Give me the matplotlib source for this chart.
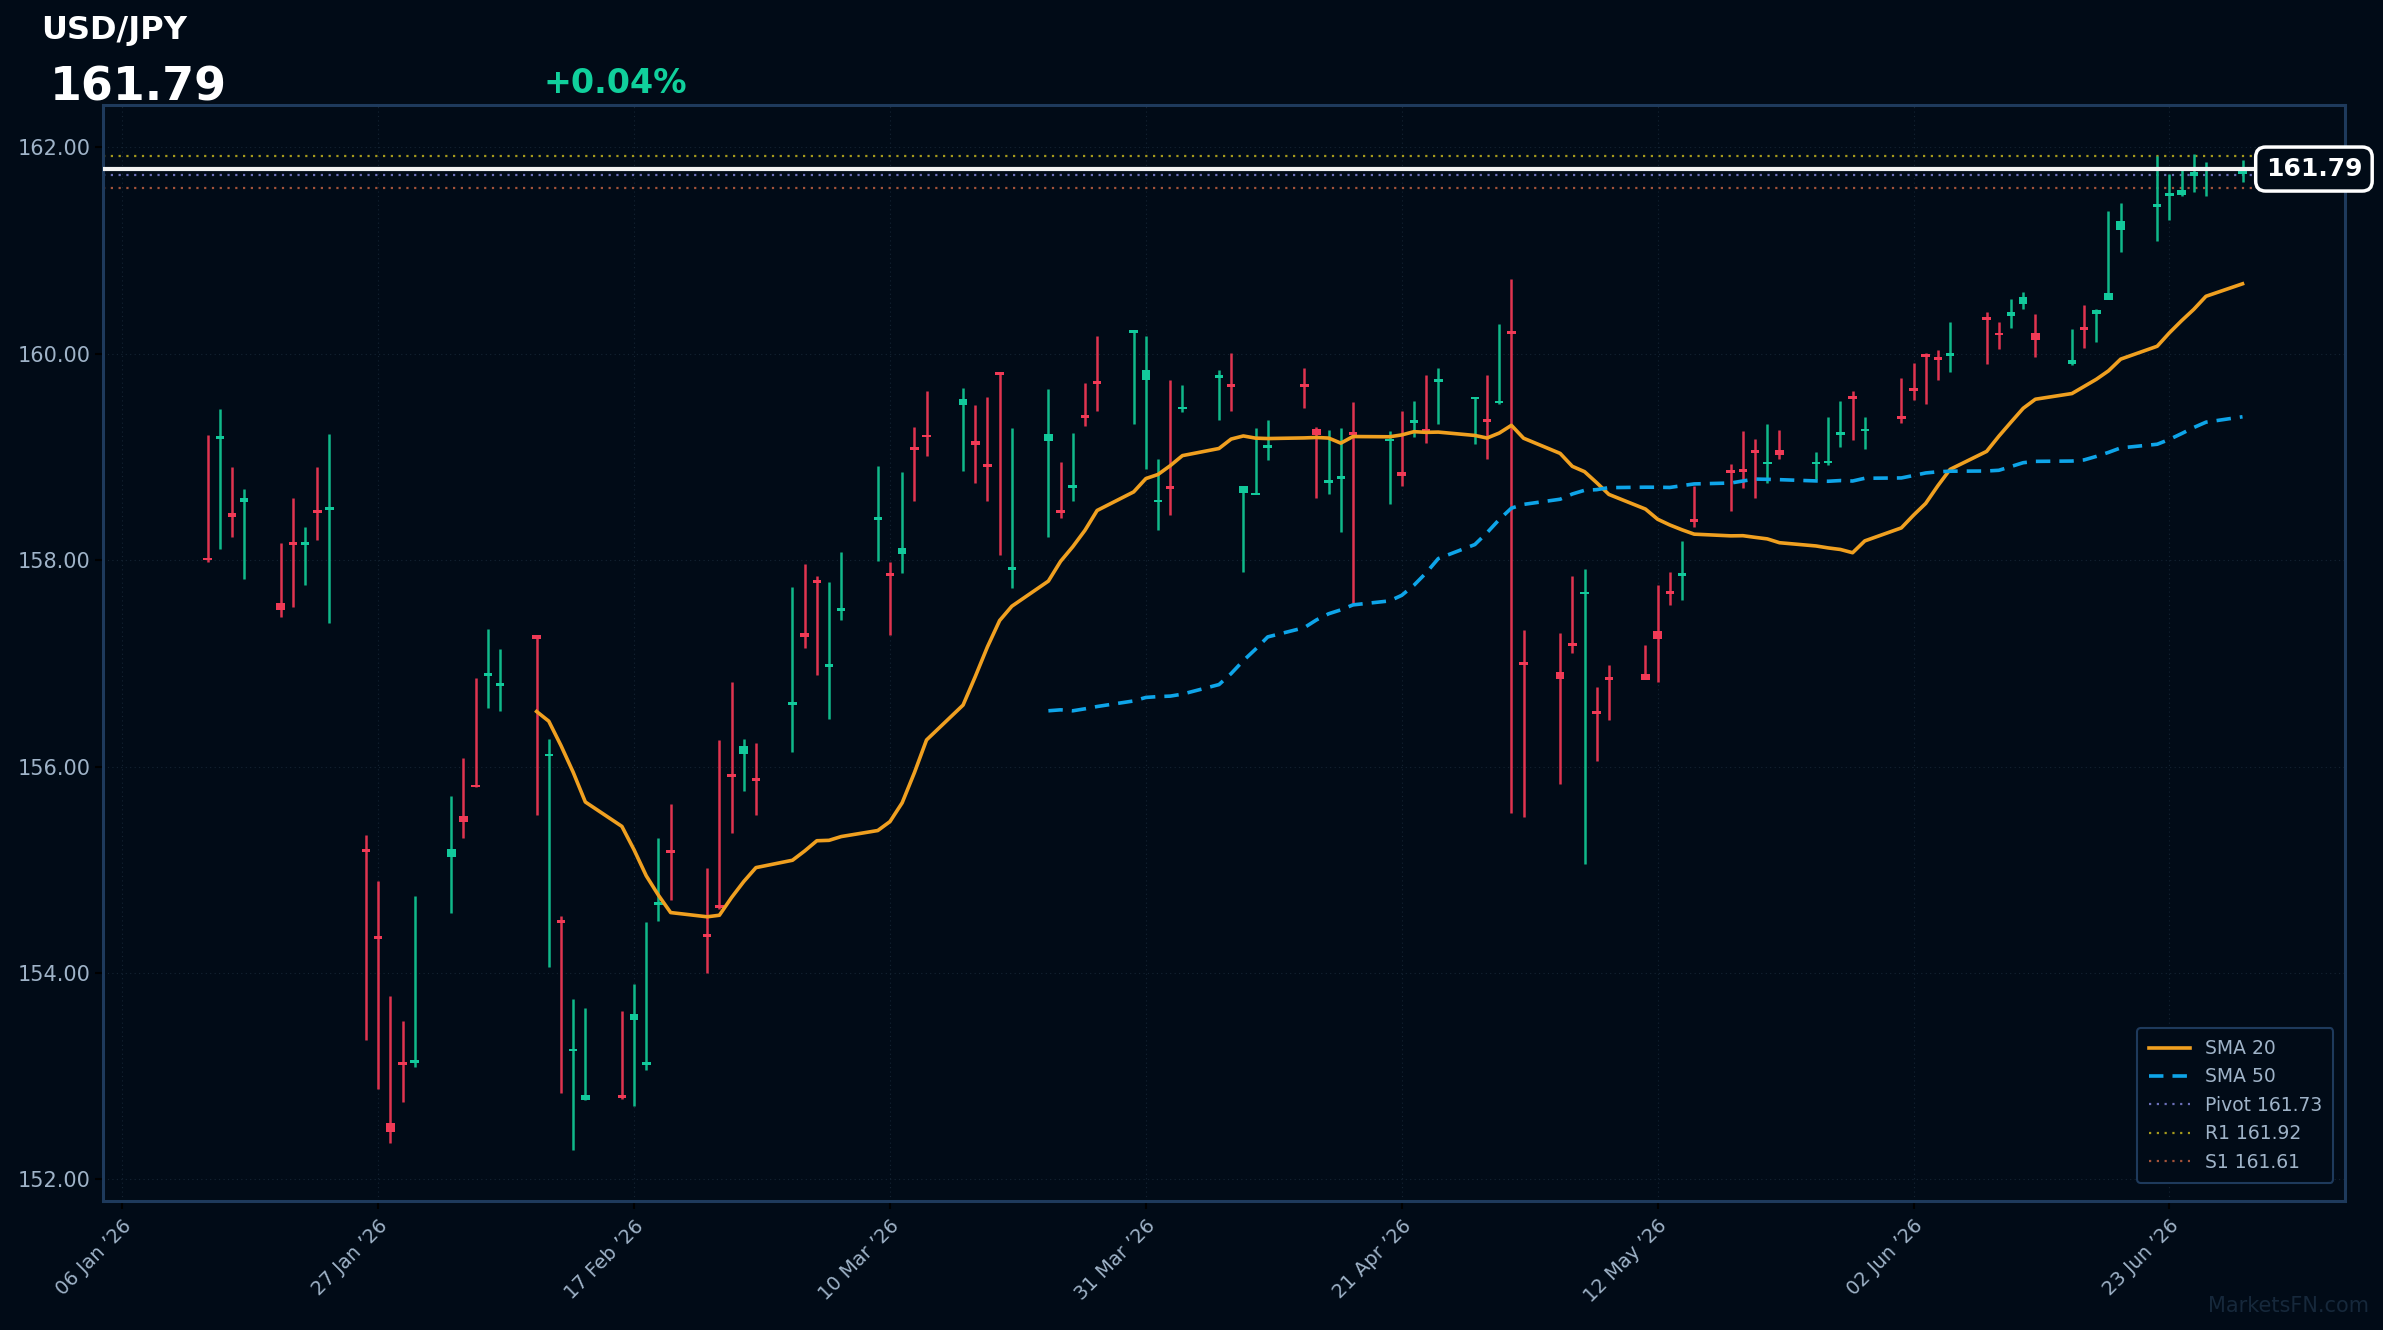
import numpy as np
import pandas as pd
import matplotlib
matplotlib.use("Agg")
import matplotlib.pyplot as plt
import matplotlib.dates as mdates

dates = pd.bdate_range("2026-01-13", "2026-06-29")

opens = [158.02,159.17,158.46,158.56,
 157.58,158.17,158.15,158.49,158.49,
 155.20,154.36,152.55,153.14,153.13,
 155.12,155.52,155.82,156.88,156.78,
 157.27,156.10,154.51,153.24,152.77,
 152.82,153.54,153.11,154.66,155.19,
 154.38,154.66,155.92,156.12,155.89,
 156.60,157.29,157.81,156.96,157.51,
 158.39,157.88,158.06,159.10,159.21,
 159.50,159.15,158.93,159.82,157.90,
 159.15,158.49,158.70,159.41,159.74,
 160.20,159.75,158.56,158.72,159.46,
 159.77,159.71,158.65,158.63,159.09,
 159.71,159.27,158.75,158.79,159.24,
 159.15,158.85,159.33,159.27,159.73,
 159.56,159.37,159.52,160.22,157.01,
 156.92,157.20,157.67,156.54,156.87,
 156.90,157.31,157.70,157.85,158.40,
 158.87,158.88,159.07,158.93,159.07,
 158.93,158.94,159.21,159.59,159.25,
 159.40,159.67,159.99,159.96,159.98,
 160.35,160.20,160.37,160.48,160.20,
 159.90,160.25,160.39,160.52,161.20,
 161.42,161.53,161.54,161.72,161.77,
 161.74]
closes = [158.00,159.20,158.42,158.60,
 157.52,158.15,158.17,158.46,158.51,
 155.17,154.33,152.46,153.11,153.16,
 155.20,155.46,155.80,156.91,156.80,
 157.24,156.12,154.48,153.26,152.82,
 152.79,153.60,153.14,154.69,155.16,
 154.35,154.63,155.90,156.20,155.86,
 156.63,157.26,157.78,156.99,157.53,
 158.41,157.85,158.12,159.07,159.19,
 159.56,159.12,158.90,159.79,157.93,
 159.22,158.46,158.73,159.38,159.71,
 160.23,159.84,158.58,158.69,159.48,
 159.79,159.68,158.72,158.65,159.11,
 159.68,159.21,158.78,158.81,159.21,
 159.17,158.82,159.36,159.25,159.76,
 159.58,159.34,159.54,160.19,156.98,
 156.85,157.17,157.69,156.51,156.84,
 156.84,157.24,157.67,157.87,158.37,
 158.84,158.85,159.04,158.95,159.02,
 158.95,158.96,159.24,159.56,159.27,
 159.37,159.64,159.97,159.94,160.00,
 160.33,160.18,160.40,160.55,160.13,
 159.94,160.23,160.42,160.59,161.29,
 161.45,161.56,161.59,161.76,161.80,
 161.79]
highs = [159.21,159.46,158.90,158.69,
 158.17,158.60,158.32,158.90,159.22,
 155.34,154.89,153.78,153.53,154.75,
 155.71,156.08,156.86,157.33,157.14,
 157.26,156.27,154.55,153.75,153.66,
 153.63,153.89,154.49,155.31,155.64,
 155.02,156.26,156.82,156.27,156.23,
 157.74,157.96,157.85,157.79,158.08,
 158.91,157.98,158.85,159.29,159.64,
 159.67,159.50,159.58,159.82,159.28,
 159.66,158.95,159.23,159.72,160.17,
 160.23,160.17,158.98,159.75,159.70,
 159.84,160.01,158.72,159.28,159.36,
 159.86,159.29,159.26,159.28,159.53,
 159.25,159.45,159.54,159.79,159.86,
 159.58,159.79,160.29,160.72,157.32,
 157.29,157.85,157.91,156.77,156.98,
 157.18,157.76,157.89,158.19,158.72,
 158.93,159.25,159.17,159.32,159.26,
 159.05,159.39,159.54,159.64,159.39,
 159.77,159.91,160.01,160.04,160.31,
 160.40,160.31,160.53,160.60,160.39,
 160.24,160.47,160.43,161.38,161.46,
 161.92,161.74,161.79,161.94,161.86,
 161.88]
lows = [157.98,158.11,158.22,157.82,
 157.45,157.55,157.76,158.20,157.39,
 153.35,152.88,152.35,152.75,153.09,
 154.58,155.31,155.80,156.57,156.54,
 155.53,154.06,152.84,152.28,152.77,
 152.78,152.71,153.06,154.50,154.71,
 154.00,154.62,155.36,155.76,155.53,
 156.14,157.15,156.89,156.46,157.42,
 157.99,157.27,157.88,158.57,159.01,
 158.86,158.75,158.57,158.05,157.73,
 158.22,158.41,158.57,159.30,159.45,
 159.32,158.88,158.29,158.44,159.44,
 159.36,159.45,157.89,158.64,158.97,
 159.47,158.60,158.64,158.27,157.58,
 158.54,158.72,159.19,159.14,159.32,
 159.13,158.98,159.51,155.55,155.51,
 155.83,157.10,155.06,156.05,156.45,
 156.85,156.82,157.57,157.61,158.32,
 158.48,158.70,158.60,158.75,158.98,
 158.79,158.92,159.10,159.16,159.08,
 159.33,159.55,159.51,159.75,159.82,
 159.90,160.05,160.25,160.43,159.97,
 159.89,160.06,160.11,160.54,160.99,
 161.09,161.30,161.53,161.57,161.53,
 161.66]

last_price = 161.79
pct_change = "+0.04%"
pivot, r1, s1 = 161.73, 161.92, 161.61
yticks = [152, 154, 156, 158, 160, 162]
xtick_dates = pd.date_range("2026-01-06", "2026-06-23", freq="21D")

BG = "#010b17"
GREEN = "#10b98a"
GREENB = "#12c99b"
RED = "#e0344f"
SPINE = "#1e3a5c"
TXT = "#9fb3c8"

df = pd.DataFrame({"o": opens, "h": highs, "l": lows, "c": closes}, index=dates)
sma20 = df["c"].rolling(20).mean()
sma50 = df["c"].rolling(50).mean()

fig = plt.figure(figsize=(23.83, 13.30), dpi=100, facecolor=BG)
ax = fig.add_axes([0.0434, 0.097, 0.9406, 0.824], facecolor=BG)

x = mdates.date2num(dates.to_pydatetime())
up = df["c"].values >= df["o"].values
cols = np.where(up, GREEN, RED)
bcols = np.where(up, GREENB, "#f03a56")
ax.vlines(x, df["l"], df["h"], colors=cols, linewidth=1.8, zorder=3)
bottom = np.minimum(df["o"], df["c"]).values
height = np.maximum(np.abs(df["c"] - df["o"]).values, 0.025)
ax.bar(x, height, bottom=bottom, width=0.7, color=bcols, zorder=4, linewidth=0)

ax.plot(x, sma20.values, color="#f0a020", lw=2.6, zorder=5, label="SMA 20")
ax.plot(x, sma50.values, color="#0ea5e9", lw=2.6, ls=(0, (4, 2.5)), zorder=5, label="SMA 50")

ax.axhline(pivot, color="#6b6fb8", lw=1.6, ls=(0, (1, 2.5)), label=f"Pivot {pivot:.2f}", zorder=2)
ax.axhline(r1, color="#a59a1c", lw=1.6, ls=(0, (1, 2.5)), label=f"R1 {r1:.2f}", zorder=2)
ax.axhline(s1, color="#a4533a", lw=1.6, ls=(0, (1, 2.5)), label=f"S1 {s1:.2f}", zorder=2)
ax.axhline(last_price, color="#f2f2f2", lw=3, zorder=6)

x0 = mdates.date2num(pd.Timestamp("2026-01-06").to_pydatetime())
ax.set_xlim(x0 - 1.55, x0 + 182.4)
ax.set_ylim(151.79, 162.41)
ax.set_yticks(yticks)
ax.set_yticklabels([f"{v:.2f}" for v in yticks])
ax.set_xticks(mdates.date2num(xtick_dates.to_pydatetime()))
ax.set_xticklabels([d.strftime("%d %b \u2019%y") for d in xtick_dates], rotation=45, ha="right", rotation_mode="anchor")
ax.tick_params(colors=TXT, labelsize=15, length=6, width=1.5)
ax.tick_params(axis="x", labelsize=14, pad=5)
for lab in ax.get_xticklabels() + ax.get_yticklabels():
    lab.set_color(TXT)
ax.tick_params(axis="both", color="#000000")
ax.grid(True, color="#1a2a3a", lw=0.8, ls=(0, (1, 3)), alpha=0.8)
for s in ax.spines.values():
    s.set_color(SPINE)
    s.set_linewidth(2.2)

ax.text(0.9862, last_price, f"{last_price:.2f}", transform=ax.get_yaxis_transform(),
        ha="center", va="center", color="white", fontsize=18, fontweight="bold", zorder=10,
        bbox=dict(boxstyle="round,pad=0.4", fc=BG, ec="white", lw=2.5))

leg = ax.legend(loc="lower right", fontsize=13.5, facecolor=BG, edgecolor=SPINE,
                labelcolor=TXT, framealpha=1, borderpad=0.6, handlelength=2.2,
                bbox_to_anchor=(0.999, 0.008))
leg.get_frame().set_linewidth(1.5)

fig.text(0.0172, 0.977, "USD/JPY", color="white", fontsize=23, fontweight="bold", va="center")
fig.text(0.021, 0.934, f"{last_price:.2f}", color="white", fontsize=33, fontweight="bold", va="center")
fig.text(0.228, 0.937, pct_change, color="#10d09c", fontsize=24, fontweight="bold", va="center")
fig.text(0.994, 0.018, "MarketsFN.com", color="#16283b", fontsize=15, ha="right", va="center")

fig.savefig("out.png", dpi=100, facecolor=BG)
